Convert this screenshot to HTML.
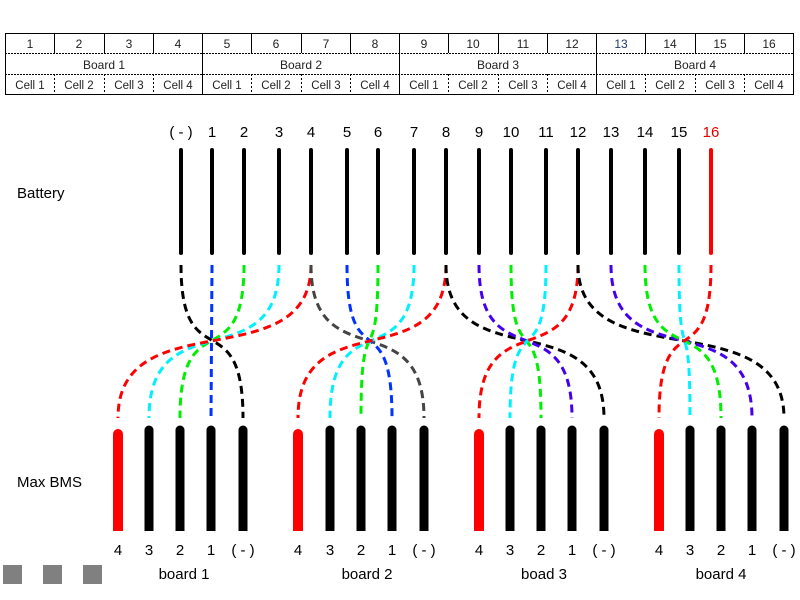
<!DOCTYPE html>
<html><head><meta charset="utf-8"><style>
body{margin:0;background:#fff;width:800px;height:600px;overflow:hidden}
svg{display:block}
text{font-family:"Liberation Sans",Arial,sans-serif}
</style></head><body>
<svg width="800" height="600" viewBox="0 0 800 600" xmlns="http://www.w3.org/2000/svg">
<g stroke="#000" fill="none">
<rect x="5.5" y="33.5" width="788" height="61" stroke-width="1"/>
<line x1="5" y1="53.5" x2="793" y2="53.5" stroke-dasharray="2,1" stroke-width="1"/>
<line x1="5" y1="74.5" x2="793" y2="74.5" stroke-dasharray="2,1" stroke-width="1"/>
<g stroke-width="1">
<line x1="54.5" y1="33" x2="54.5" y2="53"/><line x1="104.5" y1="33" x2="104.5" y2="53"/><line x1="153.5" y1="33" x2="153.5" y2="53"/>
<line x1="251.5" y1="33" x2="251.5" y2="53"/><line x1="301.5" y1="33" x2="301.5" y2="53"/><line x1="350.5" y1="33" x2="350.5" y2="53"/>
<line x1="448.5" y1="33" x2="448.5" y2="53"/><line x1="498.5" y1="33" x2="498.5" y2="53"/><line x1="547.5" y1="33" x2="547.5" y2="53"/>
<line x1="645.5" y1="33" x2="645.5" y2="53"/><line x1="695.5" y1="33" x2="695.5" y2="53"/><line x1="744.5" y1="33" x2="744.5" y2="53"/>
<line x1="202.5" y1="33" x2="202.5" y2="95"/><line x1="399.5" y1="33" x2="399.5" y2="95"/><line x1="596.5" y1="33" x2="596.5" y2="95"/>
</g>
<g stroke-dasharray="2,2" stroke-width="1">
<line x1="54.5" y1="74" x2="54.5" y2="95"/><line x1="104.5" y1="74" x2="104.5" y2="95"/><line x1="153.5" y1="74" x2="153.5" y2="95"/>
<line x1="251.5" y1="74" x2="251.5" y2="95"/><line x1="301.5" y1="74" x2="301.5" y2="95"/><line x1="350.5" y1="74" x2="350.5" y2="95"/>
<line x1="448.5" y1="74" x2="448.5" y2="95"/><line x1="498.5" y1="74" x2="498.5" y2="95"/><line x1="547.5" y1="74" x2="547.5" y2="95"/>
<line x1="645.5" y1="74" x2="645.5" y2="95"/><line x1="695.5" y1="74" x2="695.5" y2="95"/><line x1="744.5" y1="74" x2="744.5" y2="95"/>
</g>
</g>
<g font-size="12" text-anchor="middle" fill="#222">
<text x="30" y="48">1</text><text x="79" y="48">2</text><text x="129" y="48">3</text><text x="178" y="48">4</text>
<text x="227" y="48">5</text><text x="276" y="48">6</text><text x="326" y="48">7</text><text x="375" y="48">8</text>
<text x="424" y="48">9</text><text x="473" y="48">10</text><text x="523" y="48">11</text><text x="572" y="48">12</text>
<text x="621" y="48" fill="#1f3a6e">13</text><text x="670" y="48">14</text><text x="720" y="48">15</text><text x="769" y="48">16</text>
<text x="104" y="69">Board 1</text><text x="301" y="69">Board 2</text><text x="498" y="69">Board 3</text><text x="695" y="69">Board 4</text>
<g font-size="11.5">
<text x="30" y="89">Cell 1</text><text x="79" y="89">Cell 2</text><text x="129" y="89">Cell 3</text><text x="178" y="89">Cell 4</text>
<text x="227" y="89">Cell 1</text><text x="276" y="89">Cell 2</text><text x="326" y="89">Cell 3</text><text x="375" y="89">Cell 4</text>
<text x="424" y="89">Cell 1</text><text x="473" y="89">Cell 2</text><text x="523" y="89">Cell 3</text><text x="572" y="89">Cell 4</text>
<text x="621" y="89">Cell 1</text><text x="670" y="89">Cell 2</text><text x="720" y="89">Cell 3</text><text x="769" y="89">Cell 4</text>
</g></g>
<g font-size="15" fill="#000">
<text x="17" y="198">Battery</text><text x="17" y="487">Max BMS</text>
</g>
<g font-size="15" text-anchor="middle" fill="#000">
<text x="181" y="137">( - )</text><text x="212" y="137">1</text><text x="244" y="137">2</text><text x="279" y="137">3</text>
<text x="311" y="137">4</text><text x="347" y="137">5</text><text x="378" y="137">6</text><text x="414" y="137">7</text>
<text x="446" y="137">8</text><text x="479" y="137">9</text><text x="511" y="137">10</text><text x="546" y="137">11</text>
<text x="578" y="137">12</text><text x="611" y="137">13</text><text x="645" y="137">14</text><text x="679" y="137">15</text>
<text x="711" y="137" fill="#e00000">16</text>
</g>
<g stroke="#000" stroke-width="4" stroke-linecap="round">
<line x1="181" y1="150" x2="181" y2="253"/><line x1="212" y1="150" x2="212" y2="253"/><line x1="244" y1="150" x2="244" y2="253"/>
<line x1="279" y1="150" x2="279" y2="253"/><line x1="311" y1="150" x2="311" y2="253"/><line x1="347" y1="150" x2="347" y2="253"/>
<line x1="378" y1="150" x2="378" y2="253"/><line x1="414" y1="150" x2="414" y2="253"/><line x1="446" y1="150" x2="446" y2="253"/>
<line x1="479" y1="150" x2="479" y2="253"/><line x1="511" y1="150" x2="511" y2="253"/><line x1="546" y1="150" x2="546" y2="253"/>
<line x1="578" y1="150" x2="578" y2="253"/><line x1="611" y1="150" x2="611" y2="253"/><line x1="645" y1="150" x2="645" y2="253"/>
<line x1="679" y1="150" x2="679" y2="253"/><line x1="711" y1="150" x2="711" y2="253" stroke="#f00"/>
</g>
<g fill="none" stroke-width="3" stroke-dasharray="8,5">
<path d="M181 265 C181 380 243 300 243 418" stroke="#000"/>
<path d="M212 265 L211 418" stroke="#0033ff"/>
<path d="M244 265 C244 380 180 300 180 418" stroke="#00ee00"/>
<path d="M279 265 C279 380 149 300 149 418" stroke="#00f0ff"/>
<path d="M311 265 C311 380 118 300 118 418" stroke="#f00"/>

<path d="M311 265 C311 380 424 300 424 418" stroke="#444"/>
<path d="M347 265 C347 380 392 300 392 418" stroke="#0033ff"/>
<path d="M378 265 C378 380 361 300 361 418" stroke="#00ee00"/>
<path d="M414 265 C414 380 330 300 330 418" stroke="#00f0ff"/>
<path d="M446 265 C446 380 298 300 298 418" stroke="#f00"/>

<path d="M446 265 C446 380 604 300 604 418" stroke="#000"/>
<path d="M479 265 C479 380 572 300 572 418" stroke="#4400ee"/>
<path d="M511 265 C511 380 541 300 541 418" stroke="#00ee00"/>
<path d="M546 265 C546 380 510 300 510 418" stroke="#00f0ff"/>
<path d="M578 265 C578 380 479 300 479 418" stroke="#f00"/>

<path d="M578 265 C578 380 784 300 784 418" stroke="#000"/>
<path d="M611 265 C611 380 752 300 752 418" stroke="#4400ee"/>
<path d="M645 265 C645 380 721 300 721 418" stroke="#00ee00"/>
<path d="M679 265 C679 380 690 300 690 418" stroke="#00f0ff"/>
<path d="M711 265 C711 380 659 300 659 418" stroke="#f00"/>
</g>
<g fill="#000">
<rect x="113" y="429" width="10" height="102" rx="5" fill="#f00"/><rect x="113" y="440" width="10" height="91" fill="#f00"/>
<rect x="293" y="429" width="10" height="102" rx="5" fill="#f00"/><rect x="293" y="440" width="10" height="91" fill="#f00"/>
<rect x="474" y="429" width="10" height="102" rx="5" fill="#f00"/><rect x="474" y="440" width="10" height="91" fill="#f00"/>
<rect x="654" y="429" width="10" height="102" rx="5" fill="#f00"/><rect x="654" y="440" width="10" height="91" fill="#f00"/>
</g>
<g stroke="#000" stroke-width="9">
<line x1="149" y1="430" x2="149" y2="531"/><line x1="180" y1="430" x2="180" y2="531"/><line x1="211" y1="430" x2="211" y2="531"/><line x1="243" y1="430" x2="243" y2="531"/>
<line x1="330" y1="430" x2="330" y2="531"/><line x1="361" y1="430" x2="361" y2="531"/><line x1="392" y1="430" x2="392" y2="531"/><line x1="424" y1="430" x2="424" y2="531"/>
<line x1="510" y1="430" x2="510" y2="531"/><line x1="541" y1="430" x2="541" y2="531"/><line x1="572" y1="430" x2="572" y2="531"/><line x1="604" y1="430" x2="604" y2="531"/>
<line x1="690" y1="430" x2="690" y2="531"/><line x1="721" y1="430" x2="721" y2="531"/><line x1="752" y1="430" x2="752" y2="531"/><line x1="784" y1="430" x2="784" y2="531"/>
</g>
<g fill="#000">
<circle cx="149" cy="430" r="4.5"/><circle cx="180" cy="430" r="4.5"/><circle cx="211" cy="430" r="4.5"/><circle cx="243" cy="430" r="4.5"/>
<circle cx="330" cy="430" r="4.5"/><circle cx="361" cy="430" r="4.5"/><circle cx="392" cy="430" r="4.5"/><circle cx="424" cy="430" r="4.5"/>
<circle cx="510" cy="430" r="4.5"/><circle cx="541" cy="430" r="4.5"/><circle cx="572" cy="430" r="4.5"/><circle cx="604" cy="430" r="4.5"/>
<circle cx="690" cy="430" r="4.5"/><circle cx="721" cy="430" r="4.5"/><circle cx="752" cy="430" r="4.5"/><circle cx="784" cy="430" r="4.5"/>
</g>
<g font-size="15" text-anchor="middle" fill="#000">
<text x="118" y="555">4</text><text x="149" y="555">3</text><text x="180" y="555">2</text><text x="211" y="555">1</text><text x="243" y="555">( - )</text>
<text x="298" y="555">4</text><text x="330" y="555">3</text><text x="361" y="555">2</text><text x="392" y="555">1</text><text x="424" y="555">( - )</text>
<text x="479" y="555">4</text><text x="510" y="555">3</text><text x="541" y="555">2</text><text x="572" y="555">1</text><text x="604" y="555">( - )</text>
<text x="659" y="555">4</text><text x="690" y="555">3</text><text x="721" y="555">2</text><text x="752" y="555">1</text><text x="784" y="555">( - )</text>
<text x="184" y="579">board 1</text><text x="367" y="579">board 2</text><text x="544" y="579">boad 3</text><text x="721" y="579">board 4</text>
</g>
<g fill="#808080">
<rect x="3" y="565" width="19" height="19"/><rect x="43" y="565" width="19" height="19"/><rect x="83" y="565" width="19" height="19"/>
</g>
</svg>
</body></html>
